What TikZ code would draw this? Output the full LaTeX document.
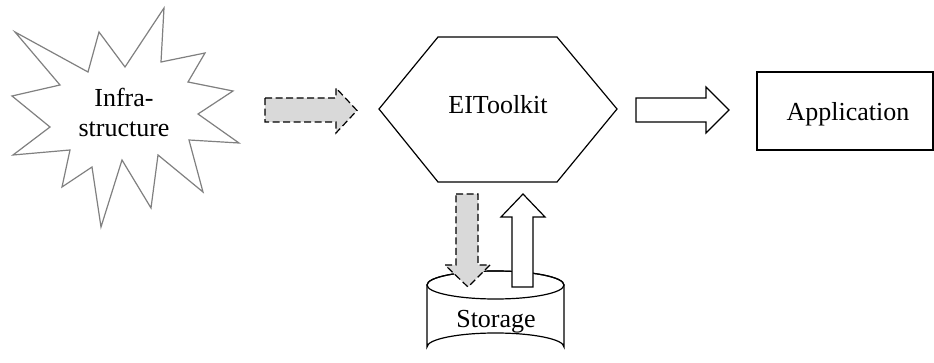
\documentclass[tikz,border=0pt]{standalone}
\usepackage{fontspec}
\setmainfont{Liberation Serif}
\begin{document}
\begin{tikzpicture}[x=1pt,y=-1pt,
  lbl/.style={inner sep=0pt,anchor=base,font=\fontsize{26}{30}\selectfont},
  outl/.style={draw=black,line width=1.2pt,line join=miter},
  whitearrow/.style={draw=black,fill=white,line width=1.2pt},
  grayarrow/.style={draw=black,fill=gray!30,line width=1.2pt,dash pattern=on 7pt off 3.5pt}]
\useasboundingbox[fill=white] (0,0) rectangle (934,363);
% Infrastructure star
\draw[draw=gray,line width=1.2pt,fill=white,line join=miter]
  (164,8) -- (161,62) -- (205,53) -- (188,82) -- (233,91) -- (198,114)
  -- (239,143) -- (189,140) -- (203,192) -- (158,155) -- (151,208)
  -- (122,160) -- (101,227) -- (92,167) -- (62,187) -- (70,150)
  -- (13,155) -- (50,127) -- (12,96) -- (60,85) -- (15,32) -- (88,72)
  -- (99,32) -- (125,67) -- cycle;
\node[lbl,align=center] (infra) at (124,137) {Infra-\\structure};
% EIToolkit hexagon
\draw[outl,fill=white] (379,109) -- (438,37) -- (557,37) -- (617,109)
  -- (557,182) -- (438,182) -- cycle;
\node[lbl] (eit) at (498,114) {EIToolkit};
% Application box
\draw[outl] (757,72) rectangle (933,150);
\node[lbl] (app) at (848,121) {Application};
% Storage cylinder
\draw[outl,fill=white] (427,285) -- (427,347) arc[start angle=180,end angle=360,x radius=68.5,y radius=14]
  -- (564,285) arc[start angle=0,end angle=-180,x radius=68.5,y radius=14];
\draw[outl] (495.5,285) ellipse[x radius=68.5,y radius=14];
\node[lbl] (storage) at (496,327) {Storage};
% Block arrows
\draw[grayarrow] (265,98) -- (336,98) -- (336,88) -- (357,110.5) -- (336,133) -- (336,122) -- (265,122) -- cycle;
\draw[whitearrow] (636,98) -- (706,98) -- (706,87) -- (729,110) -- (706,133) -- (706,122) -- (636,122) -- cycle;
\draw[grayarrow] (456,194) -- (478,194) -- (478,265) -- (490,265) -- (468,287) -- (445,265) -- (456,265) -- cycle;
\draw[whitearrow] (512,287) -- (533,287) -- (533,217) -- (545,217) -- (523,194) -- (501,217) -- (512,217) -- cycle;
\end{tikzpicture}
\end{document}
